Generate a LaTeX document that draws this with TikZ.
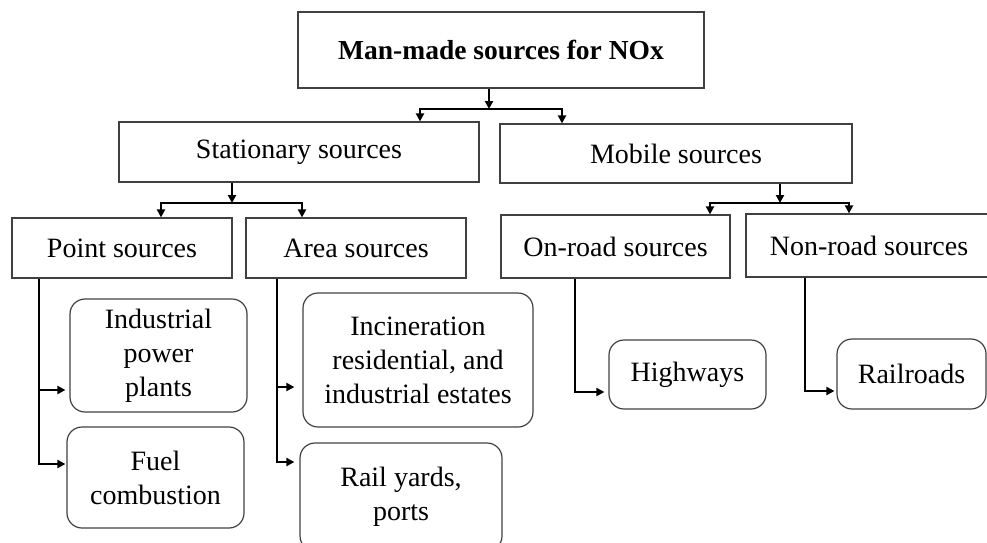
\documentclass[tikz,border=0pt]{standalone}
\usepackage{fontspec}
\setmainfont{Liberation Serif}
\usetikzlibrary{arrows.meta}
\tikzstyle{box}=[draw=black!75, line width=1.2pt, inner sep=0pt, align=center, font=\fontsize{28}{34}\selectfont]
\tikzstyle{title box}=[box, font=\fontsize{27.5}{34}\selectfont\bfseries]
\tikzstyle{source box}=[box, rounded corners=15pt]
\tikzstyle{link}=[line width=2.4pt, -{Triangle[length=8pt, width=8pt]}]

\begin{document}
\begin{tikzpicture}[x=1pt, y=-1pt]
      \useasboundingbox (0, 0) rectangle (987, 542);
      % top level
      \node[title box, minimum width=406pt, minimum height=76pt] (nox) at (501, 50) {Man-made sources for NOx};
      \node[box, minimum width=360pt, minimum height=60pt] (stationary) at (299, 152) {Stationary sources};
      \node[box, minimum width=352pt, minimum height=59pt] (mobile) at (676, 153.5) {Mobile sources};
      % second level
      \node[box, minimum width=220pt, minimum height=60pt] (point) at (122, 248) {Point sources};
      \node[box, minimum width=220pt, minimum height=60pt] (area) at (356, 248) {Area sources};
      \node[box, minimum width=229pt, minimum height=63pt] (onroad) at (615.5, 246.5) {On-road sources};
      \node[box, minimum width=246pt, minimum height=63pt] (nonroad) at (869, 245.5) {Non-road sources};
      % leaves
      \node[source box, minimum width=177pt, minimum height=113pt] (industrial) at (158.5, 355.5) {Industrial\\power\\plants};
      \node[source box, minimum width=177pt, minimum height=101pt] (fuel) at (155.5, 477.5) {Fuel\\combustion};
      \node[source box, minimum width=230pt, minimum height=134pt] (incineration) at (418, 360) {Incineration\\residential, and\\industrial estates};
      \node[source box, minimum width=202pt, minimum height=108pt] (railyards) at (401, 497) {Rail yards,\\ports};
      \node[source box, minimum width=157pt, minimum height=69pt] (highways) at (687.5, 374.5) {Highways};
      \node[source box, minimum width=149pt, minimum height=70pt] (railroads) at (911.5, 374) {Railroads};

      % tree connectors
      \coordinate (nox fork) at (489, 109);
      \draw[link] ([xshift=-12pt]nox.south) -- (nox fork);
      \draw[link] (nox fork) -| ([xshift=121pt]stationary.north);
      \draw[link] (nox fork) -| ([xshift=-114pt]mobile.north);

      \coordinate (stationary fork) at (232, 203);
      \draw[link] ([xshift=-67pt]stationary.south) -- (stationary fork);
      \draw[link] (stationary fork) -| ([xshift=39pt]point.north);
      \draw[link] (stationary fork) -| ([xshift=-54pt]area.north);

      \coordinate (mobile fork) at (780, 203);
      \draw[link] ([xshift=104pt]mobile.south) -- (mobile fork);
      \draw[link] (mobile fork) -| ([xshift=94.5pt]onroad.north);
      \draw[link] (mobile fork) -| ([xshift=-20pt]nonroad.north);

      % side branches
      \draw[link] ([xshift=-83pt]point.south) |- ([yshift=-34.5pt, xshift=-4pt]industrial.west);
      \draw[link] ([xshift=-83pt]point.south) |- ([yshift=13.5pt, xshift=-1pt]fuel.west);
      \draw[link] ([xshift=-79pt]area.south) |- ([yshift=-27pt, xshift=-8pt]incineration.west);
      \draw[link] ([xshift=-79pt]area.south) |- ([yshift=35pt, xshift=-5pt]railyards.west);
      \draw[link] ([xshift=-40.5pt]onroad.south) |- ([yshift=-17.5pt, xshift=-4pt]highways.west);
      \draw[link] ([xshift=-64pt]nonroad.south) |- ([yshift=-17pt, xshift=-2pt]railroads.west);
    \end{tikzpicture}
\end{document}
